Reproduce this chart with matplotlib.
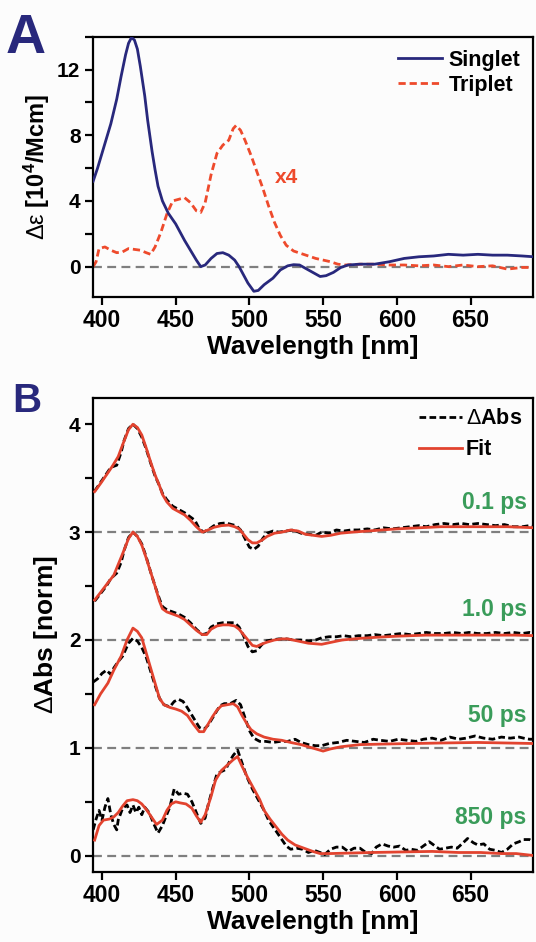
import numpy as np
import matplotlib
matplotlib.use("Agg")
from matplotlib import pyplot as plt
from matplotlib.ticker import MultipleLocator

plt.rcParams['font.family'] = ['Liberation Sans', 'DejaVu Sans']
plt.rcParams['font.weight'] = 'bold'
plt.rcParams['mathtext.fontset'] = 'custom'
plt.rcParams['mathtext.rm'] = 'Liberation Sans:weight=normal'
plt.rcParams['mathtext.it'] = 'Liberation Sans:italic:weight=normal'
plt.rcParams['mathtext.bf'] = 'Liberation Sans:weight=bold'

navy = '#28287c'
orange = '#ee4a2c'
red = '#e2432f'
green = '#3a9c5a'
grey = '#7f7f7f'

# panel A: singlet / triplet (x4) difference spectra
wl_singlet = [394, 397, 401, 406, 410, 413, 416, 418, 420, 422, 424, 426, 429, 431, 434, 436, 438, 441,
              445, 450, 456, 460, 464, 467, 470, 474, 478, 482, 486, 490, 493, 496, 499, 503, 506, 510,
              516, 521, 526, 530, 534, 538, 543, 548, 552, 557, 562, 567, 575, 585, 595, 605, 615, 625,
              635, 645, 655, 665, 675, 685, 693]
singlet = [5.2, 6.0, 7.2, 8.7, 10.2, 11.6, 12.9, 13.6, 13.95, 13.8, 13.25, 12.2, 10.4, 8.9, 7.0, 5.9, 4.9,
           4.0, 3.25, 2.6, 1.6, 1.0, 0.4, 0.0, 0.1, 0.5, 0.8, 0.85, 0.7, 0.4, 0.0, -0.5, -1.0, -1.5, -1.45,
           -1.1, -0.7, -0.2, 0.05, 0.12, 0.1, -0.1, -0.35, -0.6, -0.55, -0.35, -0.05, 0.1, 0.15, 0.15, 0.3,
           0.5, 0.6, 0.65, 0.75, 0.7, 0.75, 0.7, 0.7, 0.65, 0.6]

wl_triplet = [394, 396, 398, 402, 406, 410, 414, 418, 422, 426, 430, 433, 436, 440, 444, 448, 452, 456,
              460, 464, 467, 470, 474, 478, 482, 486, 489, 491, 494, 497, 501, 505, 509, 513, 517, 521,
              525, 530, 535, 540, 545, 550, 555, 560, 565, 575, 585, 595, 605, 615, 625, 635, 645, 655,
              665, 675, 685, 693]
triplet = [0.0, 0.3, 1.1, 1.2, 1.0, 0.85, 0.9, 1.1, 1.05, 1.0, 0.85, 0.75, 1.2, 2.1, 3.2, 4.0, 4.1, 4.2,
           3.9, 3.4, 3.3, 3.9, 5.6, 6.9, 7.4, 7.7, 8.4, 8.6, 8.3, 7.7, 6.8, 5.8, 4.8, 3.7, 2.7, 1.9,
           1.3, 0.95, 0.8, 0.65, 0.5, 0.4, 0.3, 0.15, 0.1, 0.15, 0.15, 0.1, 0.1, 0.05, 0.1, 0.0, 0.1, 0.0,
           0.05, -0.15, -0.05, -0.05]

# panel B: normalised transient spectra (offset) and fits
delays = ['0.1 ps', '1.0 ps', '50 ps', '850 ps']
offsets = [3, 2, 1, 0]
label_y = [3.27, 2.28, 1.30, 0.35]

wl_fit_01 = [395, 399, 404, 407, 411, 414, 418, 421, 424, 427, 430, 433, 436, 439, 441, 444, 448, 452, 456,
             460, 464, 468, 472, 476, 481, 486, 490, 493, 496, 499, 502, 505, 509, 512, 517, 522, 528, 533,
             538, 549, 555, 562, 570, 580, 590, 600, 615, 630, 645, 660, 675, 694]
fit_01 = [0.375, 0.45, 0.55, 0.61, 0.70, 0.81, 0.95, 1.0, 0.97, 0.90, 0.78, 0.65, 0.53, 0.43, 0.35, 0.28,
          0.22, 0.19, 0.16, 0.11, 0.05, 0.0, 0.02, 0.045, 0.06, 0.065, 0.05, 0.03, -0.02, -0.07, -0.10, -0.10,
          -0.07, -0.04, -0.01, 0.0, 0.02, 0.01, -0.02, -0.04, -0.03, -0.01, 0.0, 0.01, 0.02, 0.03, 0.04,
          0.05, 0.05, 0.05, 0.05, 0.04]
wl_dat_01 = [395, 399, 403, 406, 410, 413, 415, 418, 421, 424, 427, 430, 433, 436, 439, 441, 444, 448, 452,
             456, 460, 463, 466, 469, 473, 476, 480, 484, 488, 491, 494, 497, 500, 503, 506, 509, 512, 516,
             520, 525, 530, 535, 540, 545, 549, 554, 559, 564, 569, 574, 580, 585, 591, 597, 603, 609, 615,
             620, 626, 632, 638, 644, 649, 655, 661, 667, 673, 679, 685, 690, 694]
dat_01 = [0.38, 0.46, 0.54, 0.60, 0.62, 0.74, 0.85, 0.96, 1.0, 0.96, 0.88, 0.77, 0.64, 0.52, 0.43, 0.36,
          0.30, 0.24, 0.21, 0.18, 0.14, 0.11, 0.03, 0.0, 0.03, 0.06, 0.08, 0.085, 0.07, 0.06, 0.02, -0.06,
          -0.14, -0.16, -0.13, -0.06, -0.01, 0.01, 0.0, 0.01, 0.02, -0.01, -0.02, -0.03, 0.0, -0.01, 0.02,
          0.01, 0.02, 0.02, 0.03, 0.02, 0.04, 0.03, 0.04, 0.05, 0.06, 0.05, 0.07, 0.08, 0.07, 0.08, 0.07,
          0.08, 0.07, 0.06, 0.07, 0.05, 0.05, 0.06, 0.05]

wl_fit_10 = [395, 399, 404, 408, 411, 414, 418, 421, 424, 427, 430, 433, 436, 439, 441, 444, 448, 452, 456,
             460, 464, 468, 471, 474, 478, 482, 486, 490, 493, 496, 499, 502, 505, 508, 512, 517, 522, 526,
             533, 540, 549, 556, 563, 575, 586, 600, 620, 640, 660, 680, 694]
fit_10 = [0.37, 0.44, 0.53, 0.60, 0.70, 0.80, 0.94, 1.0, 0.96, 0.88, 0.76, 0.63, 0.50, 0.36, 0.29, 0.26,
          0.24, 0.22, 0.19, 0.14, 0.09, 0.05, 0.05, 0.10, 0.13, 0.14, 0.14, 0.13, 0.10, 0.05, 0.0, -0.05,
          -0.06, -0.04, -0.02, 0.0, 0.01, 0.01, -0.01, -0.03, -0.04, -0.02, 0.0, 0.015, 0.025, 0.035, 0.045,
          0.045, 0.045, 0.045, 0.04]
wl_dat_10 = [395, 399, 403, 406, 410, 413, 415, 418, 421, 424, 427, 430, 433, 436, 439, 441, 444, 448, 452,
             456, 460, 464, 468, 471, 474, 478, 482, 486, 490, 493, 496, 499, 502, 505, 508, 511, 515, 520,
             525, 530, 535, 540, 545, 549, 554, 559, 564, 569, 574, 580, 585, 591, 597, 603, 609, 615, 620,
             626, 632, 638, 644, 649, 655, 661, 667, 673, 679, 685, 690, 694]
dat_10 = [0.36, 0.43, 0.50, 0.57, 0.62, 0.72, 0.83, 0.95, 1.0, 0.96, 0.89, 0.77, 0.63, 0.50, 0.38, 0.31,
          0.28, 0.26, 0.24, 0.21, 0.16, 0.10, 0.05, 0.06, 0.12, 0.15, 0.16, 0.16, 0.16, 0.12, 0.04, -0.06,
          -0.11, -0.10, -0.05, -0.01, 0.0, 0.01, 0.01, 0.0, 0.0, -0.01, 0.0, 0.02, 0.03, 0.03, 0.04, 0.03,
          0.04, 0.04, 0.05, 0.04, 0.05, 0.06, 0.05, 0.06, 0.07, 0.06, 0.06, 0.07, 0.06, 0.07, 0.06, 0.06,
          0.07, 0.06, 0.07, 0.06, 0.07, 0.06]

wl_fit_50 = [395, 399, 404, 408, 413, 417, 421, 424, 427, 430, 433, 436, 439, 442, 446, 450, 454, 458, 462,
             466, 469, 472, 475, 478, 481, 485, 489, 492, 495, 498, 501, 505, 510, 516, 522, 528, 535, 540,
             545, 550, 555, 562, 575, 590, 610, 630, 655, 675, 694]
fit_50 = [0.40, 0.50, 0.60, 0.72, 0.85, 1.0, 1.11, 1.08, 1.02, 0.88, 0.74, 0.60, 0.46, 0.40, 0.375, 0.36,
          0.34, 0.30, 0.22, 0.15, 0.15, 0.22, 0.29, 0.35, 0.39, 0.40, 0.41, 0.38, 0.30, 0.23, 0.17, 0.13,
          0.10, 0.08, 0.07, 0.05, 0.03, 0.01, -0.01, -0.03, -0.01, 0.01, 0.03, 0.035, 0.04, 0.045, 0.05,
          0.045, 0.04]
wl_dat_50 = [394, 397, 400, 403, 406, 408, 411, 414, 418, 421, 424, 427, 430, 433, 436, 439, 442, 446, 449,
             452, 455, 458, 462, 466, 469, 472, 476, 480, 483, 487, 491, 494, 497, 500, 503, 507, 511, 516,
             521, 526, 531, 535, 540, 545, 549, 554, 560, 566, 572, 578, 584, 589, 595, 601, 607, 613, 618,
             624, 630, 636, 642, 647, 653, 659, 665, 671, 677, 683, 686, 690, 694]
dat_50 = [0.61, 0.64, 0.69, 0.72, 0.68, 0.74, 0.80, 0.85, 0.97, 1.015, 0.99, 0.93, 0.84, 0.71, 0.58, 0.46,
          0.40, 0.38, 0.43, 0.45, 0.43, 0.37, 0.28, 0.19, 0.17, 0.21, 0.30, 0.39, 0.41, 0.41, 0.44, 0.40,
          0.28, 0.16, 0.09, 0.06, 0.06, 0.05, 0.06, 0.06, 0.08, 0.05, 0.03, 0.02, 0.02, 0.04, 0.05, 0.07,
          0.06, 0.05, 0.08, 0.07, 0.06, 0.08, 0.07, 0.06, 0.08, 0.09, 0.07, 0.10, 0.08, 0.09, 0.11, 0.09,
          0.08, 0.10, 0.09, 0.10, 0.09, 0.08, 0.08]

wl_fit_850 = [395, 398, 401, 405, 408, 411, 414, 417, 421, 424, 427, 430, 433, 437, 441, 444, 447, 450, 453,
              457, 461, 464, 467, 470, 474, 477, 481, 485, 489, 492, 495, 499, 503, 507, 510, 514, 518, 522,
              526, 531, 537, 543, 548, 554, 569, 583, 603, 624, 642, 657, 671, 681, 694]
fit_850 = [0.145, 0.28, 0.33, 0.34, 0.36, 0.40, 0.46, 0.51, 0.52, 0.51, 0.48, 0.43, 0.37, 0.29, 0.33, 0.42,
           0.48, 0.50, 0.49, 0.48, 0.44, 0.37, 0.31, 0.38, 0.55, 0.70, 0.79, 0.84, 0.89, 0.92, 0.83, 0.72,
           0.62, 0.52, 0.42, 0.34, 0.27, 0.20, 0.145, 0.10, 0.07, 0.04, 0.02, 0.02, 0.025, 0.03, 0.035, 0.04,
           0.03, 0.03, 0.02, 0.02, 0.0]
wl_dat_850 = [394, 396, 398, 400, 402, 404, 406, 408, 410, 411, 414, 417, 419, 421, 423, 425, 427, 429, 432,
              435, 438, 441, 443, 446, 449, 452, 455, 458, 461, 464, 467, 470, 472, 475, 478, 481, 484, 486,
              489, 492, 495, 498, 502, 506, 510, 513, 517, 521, 525, 528, 532, 536, 540, 544, 548, 551, 555,
              559, 563, 567, 571, 575, 579, 583, 586, 590, 594, 598, 602, 606, 610, 614, 618, 622, 625, 629,
              633, 637, 641, 645, 648, 652, 655, 659, 663, 667, 671, 675, 679, 683, 686, 690, 694]
dat_850 = [0.24, 0.34, 0.42, 0.33, 0.45, 0.53, 0.38, 0.29, 0.24, 0.33, 0.44, 0.47, 0.40, 0.47, 0.40, 0.45,
           0.38, 0.45, 0.40, 0.30, 0.21, 0.28, 0.35, 0.45, 0.62, 0.57, 0.58, 0.57, 0.50, 0.40, 0.30, 0.35,
           0.47, 0.62, 0.76, 0.78, 0.80, 0.86, 0.93, 0.98, 0.86, 0.74, 0.62, 0.52, 0.42, 0.33, 0.25, 0.17,
           0.09, 0.06, 0.07, 0.06, 0.03, 0.05, 0.03, 0.01, 0.06, 0.08, 0.08, 0.04, 0.07, 0.07, 0.03, 0.02,
           0.08, 0.11, 0.09, 0.08, 0.09, 0.05, 0.06, 0.05, 0.09, 0.13, 0.10, 0.06, 0.07, 0.08, 0.07, 0.12,
           0.16, 0.12, 0.10, 0.11, 0.06, 0.05, 0.03, 0.06, 0.11, 0.13, 0.15, 0.15, 0.12]

fits = [(wl_fit_01, fit_01), (wl_fit_10, fit_10), (wl_fit_50, fit_50), (wl_fit_850, fit_850)]
dats = [(wl_dat_01, dat_01), (wl_dat_10, dat_10), (wl_dat_50, dat_50), (wl_dat_850, dat_850)]

W, H = 536, 942
fig = plt.figure(figsize=(W / 100, H / 100), dpi=100, facecolor='#fcfcfc')


def style_axes(ax):
    for s in ax.spines.values():
        s.set_linewidth(1.6)
    ax.set_facecolor('#fcfcfc')
    ax.tick_params(axis='both', which='both', direction='out', width=1.6, length=6, pad=3)
    ax.tick_params(axis='y', labelsize=15)
    ax.tick_params(axis='x', labelsize=16.5)
    ax.set_xlim(393.9, 692.4)
    ax.xaxis.set_major_locator(MultipleLocator(50))
    ax.set_xlabel('Wavelength [nm]', fontsize=19, fontweight='bold', labelpad=2)


#panel A
axA = fig.add_axes([93 / W, 1 - 296.7 / H, 440 / W, 260 / H])
style_axes(axA)
axA.axhline(0, color=grey, lw=1.6, dashes=(4, 2.4), zorder=1)
axA.plot(wl_singlet, singlet, color=navy, lw=2, label='Singlet', zorder=3)
axA.plot(wl_triplet, triplet, color=orange, lw=2, dashes=(2.6, 1.4), label='Triplet', zorder=2)
axA.set_ylim(-1.83, 14.0)
axA.yaxis.set_major_locator(MultipleLocator(4))
axA.yaxis.set_minor_locator(MultipleLocator(2))
axA.set_ylabel(r'$\mathrm{\Delta ε}$ [10$^{\mathbf{4}}$/Mcm]', fontsize=17, fontweight='bold', labelpad=4)
axA.text(525, 5.43, 'x4', color=orange, fontsize=15, fontweight='bold', ha='center', va='center')
axA.legend(loc='upper right', frameon=False, fontsize=15.5, handlelength=2.05, handletextpad=0.3,
           labelspacing=0.2, borderaxespad=0.25, borderpad=0.35)
fig.text(6 / W, 1 - 53 / H, 'A', fontsize=40, fontweight='bold', color=navy)

#panel B
axB = fig.add_axes([93 / W, 1 - 871.7 / H, 440 / W, 474 / H])
style_axes(axB)
for off in offsets:
    axB.axhline(off, color=grey, lw=1.6, dashes=(4, 2.4), zorder=1)
for i, off in enumerate(offsets):
    wl_d, d = dats[i]
    wl_f, f = fits[i]
    axB.plot(wl_d, np.array(d) + off, color='black', lw=2, dashes=(2.4, 1.2), zorder=2,
             label=r'$\mathrm{\Delta}$Abs' if i == 0 else None)
    axB.plot(wl_f, np.array(f) + off, color=red, lw=2, zorder=3, label='Fit' if i == 0 else None)
    axB.text(688, label_y[i], delays[i], color=green, fontsize=16.5, fontweight='bold',
             ha='right', va='center')
axB.set_ylim(-0.148, 4.246)
axB.yaxis.set_major_locator(MultipleLocator(1))
axB.yaxis.set_minor_locator(MultipleLocator(0.5))
axB.set_ylabel(r'$\mathrm{\Delta}$Abs [norm]', fontsize=19, fontweight='bold', labelpad=6)
axB.legend(loc='upper right', frameon=False, fontsize=15.5, handlelength=2.0, handletextpad=0.2,
           labelspacing=0.45, borderaxespad=0.2, borderpad=0.3)
fig.text(12 / W, 1 - 412 / H, 'B', fontsize=29, fontweight='bold', color=navy)

plt.savefig('out.png', dpi=100, facecolor=fig.get_facecolor())
